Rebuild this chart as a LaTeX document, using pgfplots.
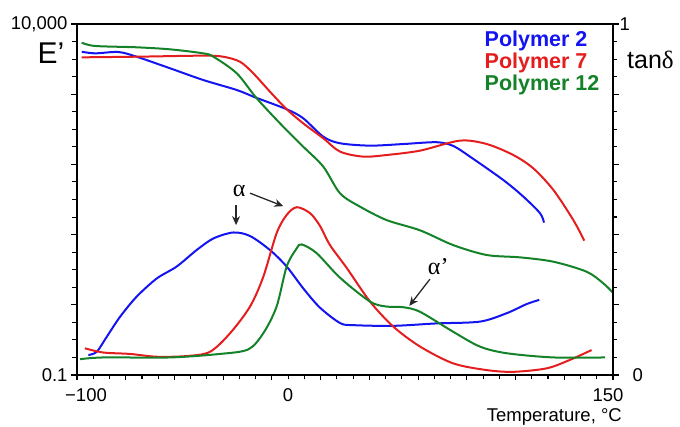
\documentclass[border=0pt]{standalone}
\usepackage{fontspec}
\setmainfont{Liberation Sans}
\newfontfamily\serif{Liberation Serif}
\usepackage{pgfplots}
\pgfplotsset{compat=1.18}
\usetikzlibrary{arrows.meta}
\definecolor{cblue}{RGB}{20,20,240}
\definecolor{cred}{RGB}{228,30,30}
\definecolor{cgreen}{RGB}{20,130,40}
\definecolor{carrow}{RGB}{40,40,40}

\begin{document}
\begin{tikzpicture}[x=1pt,y=1pt]
\path[use as bounding box] (-77,-52) rectangle (603,375);
\pgfplotsset{
  common/.style={
    at={(0,0)}, anchor=south west,
    width=536pt, height=351pt, scale only axis,
    xmin=-100, xmax=150,
    axis line style={line width=1.1pt},
    every tick/.style={black, line width=1.1pt},
    tick align=outside,
    /pgf/number format/assume math mode=true,
    tick label style={font=\fontsize{18.5}{20}\selectfont},
  }
}
\begin{axis}[common,
  ymode=log, ymin=0.1, ymax=10000,
  xtick pos=bottom, ytick pos=left,
  xtick={-100,-77.273,-54.545,-31.818,-9.091,13.636,36.364,59.091,81.818,104.545,127.273,150},
  minor xtick={-92.424,-84.848,-69.697,-62.121,-46.970,-39.394,-24.242,-16.667,-1.515,6.061,21.212,28.788,43.939,51.515,66.667,74.242,89.394,96.970,112.121,119.697,134.848,142.424},
  xticklabels={},
  major tick length=5.5pt, minor tick length=4.5pt,
  extra x ticks={-95.8,-1.6,147.7},
  extra x tick labels={−100,0,150},
  extra x tick style={major tick length=0pt, xticklabel style={anchor=north, inner sep=0pt, yshift=-13pt}},
  ytick={0.1,1,10,100,1000,10000},
  minor ytick={0.1778,0.3162,0.5623,1.778,3.162,5.623,17.78,31.62,56.23,177.8,316.2,562.3,1778,3162,5623},
  yticklabels={{0.1\hspace{5pt}},,,,,{10,000}},
  yticklabel style={anchor=east, inner sep=0pt, xshift=-3pt},
  line width=2pt, smooth, tension=0.5,
]
% Polymer 2 E'
\addplot[cblue, no marks] coordinates {
(-97.8,4027) (-91.6,3819) (-80.7,3990) (-72.2,3420) (-56.6,2339) (-41.1,1592)
(-25.5,1148) (-17.0,904) (-2.2,610) (5.5,454) (14.9,248) (22.7,200) (36.7,185)
(52.2,195) (67.8,207) (75.5,183) (83.3,129) (98.8,60) (108.2,34.7) (116.0,20.1) (117.8,14.8)};
% Polymer 7 E'
\addplot[cred, no marks] coordinates {
(-97.8,3350) (-72.2,3420) (-41.1,3540) (-31.8,3420) (-24.0,2904) (-17.8,1986)
(-10.0,1086) (-2.2,610) (5.5,385) (14.9,235) (22.7,152) (33.5,129) (44.4,136)
(60.0,157) (78.6,218) (91.1,195) (103.5,136) (112.8,88) (122.2,43.2) (131.5,16.1) (136.6,8.2)};
% Polymer 12 E'
\addplot[cgreen, no marks] coordinates {
(-97.8,5420) (-91.6,4864) (-72.2,4656) (-56.6,4355) (-41.1,3819) (-36.4,3420)
(-25.5,1986) (-16.2,875) (-3.8,344) (5.5,179) (14.9,92.7) (22.7,38.7) (32.0,25.0)
(44.4,16.1) (60.0,11.5) (75.5,7.08) (91.1,5.12) (106.6,4.74) (122.2,4.11)
(137.7,2.96) (145.5,2.02) (150,1.48)};
\end{axis}

\begin{axis}[common,
  ymin=0, ymax=1,
  axis x line=none, axis y line*=right,
  ytick={0,0.2,0.4,0.6,0.8,1},
  minor ytick={0.05,0.1,0.15,0.25,0.3,0.35,0.45,0.5,0.55,0.65,0.7,0.75,0.85,0.9,0.95},
  yticklabels={{\hspace{13pt}0},,,,,1},
  yticklabel style={anchor=west, inner sep=0pt, xshift=-0.5pt},
  major tick length=6pt, minor tick length=4pt,
  line width=2pt, smooth, tension=0.5,
]
% Polymer 2 tan delta
\addplot[cblue, no marks] coordinates {
(-94.7,0.057) (-90.8,0.066) (-86.1,0.109) (-79.9,0.166) (-72.2,0.223) (-62.8,0.275)
(-53.5,0.309) (-44.2,0.356) (-36.4,0.389) (-27.1,0.406) (-19.3,0.396) (-10.0,0.356)
(-2.2,0.309) (5.5,0.247) (13.3,0.192) (22.7,0.148) (28.9,0.142) (47.5,0.140)
(67.8,0.147) (87.9,0.152) (100.4,0.176) (109.7,0.202) (115.6,0.214)};
% Polymer 7 tan delta
\addplot[cred, no marks] coordinates {
(-96.3,0.076) (-87.7,0.064) (-75.3,0.060) (-62.8,0.052) (-48.8,0.054) (-38.0,0.066)
(-28.6,0.119) (-19.3,0.195) (-13.1,0.28) (-6.9,0.404) (-2.2,0.456) (2.5,0.478)
(8.7,0.461) (13.3,0.425) (18.0,0.37) (25.8,0.305) (36.7,0.209) (47.5,0.138)
(60.0,0.081) (75.5,0.033) (91.1,0.014) (103.5,0.009) (119.1,0.019) (129.9,0.043) (140.0,0.071)};
% Polymer 12 tan delta
\addplot[cgreen, no marks] coordinates {
(-98.6,0.045) (-87.7,0.05) (-56.6,0.05) (-33.3,0.06) (-20.1,0.073) (-13.1,0.119)
(-6.9,0.195) (-2.2,0.309) (2.5,0.361) (4.8,0.372) (11.8,0.347) (22.7,0.277)
(36.7,0.209) (44.4,0.195) (52.2,0.193) (60.0,0.180) (75.5,0.123) (87.9,0.081)
(100.4,0.062) (122.2,0.05) (146.3,0.05)};
% annotations
\node[font=\serif\fontsize{24}{24}\selectfont, inner sep=0pt] at (axis cs:-24.4,0.525) {α};
\draw[carrow, line width=1.3pt, -{Stealth[length=9pt,width=8pt]}] (axis cs:-25.8,0.484) -- (axis cs:-25.8,0.427);
\draw[carrow, line width=1.3pt, -{Stealth[length=9pt,width=8pt]}] (axis cs:-19.3,0.518) -- (axis cs:-3.8,0.481);
\node[font=\serif\fontsize{24}{24}\selectfont, inner sep=0pt] at (axis cs:68.5,0.31) {α’};
\draw[carrow, line width=1.3pt, -{Stealth[length=9pt,width=8pt]}] (axis cs:64.6,0.273) -- (axis cs:55.0,0.197);
\end{axis}

% legend
\node[anchor=base west, inner sep=0pt, text=cblue, font=\bfseries\fontsize{21.5}{22}\selectfont] at (407.5,328.3) {Polymer 2};
\node[anchor=base west, inner sep=0pt, text=cred, font=\bfseries\fontsize{21.5}{22}\selectfont] at (407.5,306.3) {Polymer 7};
\node[anchor=base west, inner sep=0pt, text=cgreen, font=\bfseries\fontsize{21.5}{22}\selectfont] at (407.5,284.3) {Polymer 12};
% axis titles
\node[anchor=base west, inner sep=0pt, font=\fontsize{30}{30}\selectfont] at (-39.5,311.7) {E’};
\node[anchor=base west, inner sep=0pt, font=\fontsize{25}{25}\selectfont] at (550,306.7) {tan{\serif δ}};
\node[anchor=base east, inner sep=0pt, font=\fontsize{18.5}{20}\selectfont] at (545,-47) {Temperature, °C};
\end{tikzpicture}
\end{document}
